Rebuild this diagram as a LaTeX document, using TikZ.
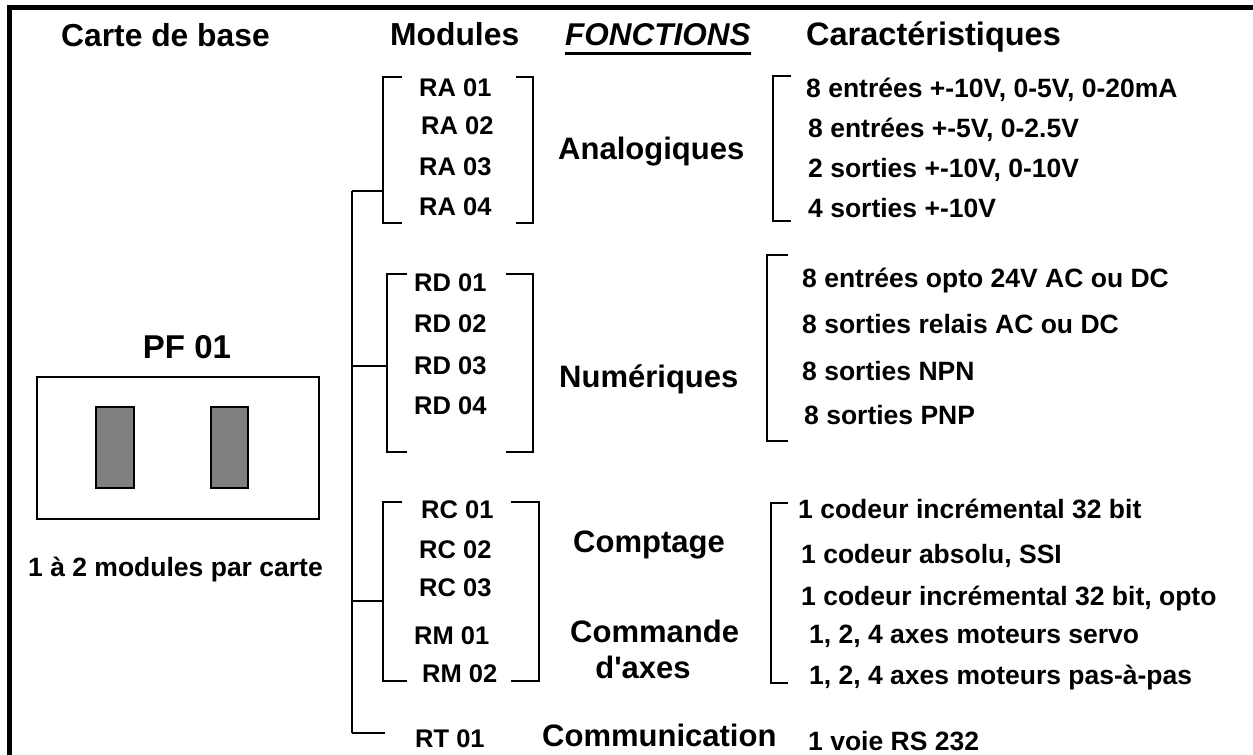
\documentclass[tikz,border=0pt]{standalone}
\usepackage{fontspec}
\setmainfont{Liberation Sans}[Ligatures=TeXOff]
\newcommand\fsz[1]{\fontsize{#1pt}{#1pt}\selectfont\bfseries}
\definecolor{slotgray}{HTML}{808080}
\begin{document}
\begin{tikzpicture}[x=1pt,y=-1pt,
  txt/.style={inner sep=0pt, anchor=base west},
  hdr/.style={txt, font=\fsz{31.8}},
  fun/.style={txt, font=\fsz{31}},
  modl/.style={txt, font=\fsz{25.5}},
  car/.style={txt, font=\fsz{26.5}},
  brk/.style={line width=2pt},
  conn/.style={line width=2pt},
  frame/.style={line width=5pt},
  slot/.style={draw, line width=2pt, fill=slotgray}]
\useasboundingbox (0,0) rectangle (1253,755);
% frame
\draw[frame] (1260,7.5) -- (9.5,7.5) -- (9.5,760);

% headers
\node[hdr] (h1) at (61,46) {Carte de base};
\node[hdr] (h2) at (390,45) {Modules};
\node[hdr, font=\fsz{31.5}\itshape] (h3) at (565,45) {FONCTIONS};
\draw[line width=2.5pt] ([yshift=-8.5pt]h3.base west) -- ([yshift=-8.5pt]h3.base east);
\node[hdr, font=\fsz{32.5}] (h4) at (806,45) {Caractéristiques};

% base board
\node[txt, anchor=base, font=\fsz{33}] (pf) at (187,358) {PF 01};
\node[draw, line width=2.5pt, minimum width=282pt, minimum height=142pt, inner sep=0pt] (board) at (178,448) {};
\node[slot, minimum width=38pt, minimum height=81pt, inner sep=0pt] (s1) at (115,447.5) {};
\node[slot, minimum width=37pt, minimum height=81pt, inner sep=0pt] (s2) at (229.5,447.5) {};
\node[car] (nb) at (28,576) {1 à 2 modules par carte};

% trunk coordinates
\coordinate (tA) at (352,191);
\coordinate (tD) at (352,366);
\coordinate (tC) at (352,601);
\coordinate (tT) at (352,733);
\coordinate (gA) at (383,191);
\coordinate (gD) at (387,366);
\coordinate (gC) at (383,601);
\coordinate (gT) at (385,733);
\draw[conn] (tA) -- (tT);
\draw[conn] (tA) -- (gA);
\draw[conn] (tD) -- (gD);
\draw[conn] (tC) -- (gC);
\draw[conn] (tT) -- (gT);

% analog modules
\node[modl] (ra1) at (419,96) {RA 01};
\node[modl] (ra2) at (421,134) {RA 02};
\node[modl] (ra3) at (419,175) {RA 03};
\node[modl] (ra4) at (419,215) {RA 04};
\draw[brk] (402,77) -- (383,77) -- (383,223) -- (402,223);
\draw[brk] (516,77) -- (533,77) -- (533,223) -- (516,223);
\node[fun] (fa) at (558,159) {Analogiques};
\draw[brk] (791,76) -- (773,76) -- (773,221) -- (791,221);
\node[car] (ca1) at (806,97) {8 entrées +-10V, 0-5V, 0-20mA};
\node[car] (ca2) at (808,137) {8 entrées +-5V, 0-2.5V};
\node[car] (ca3) at (808,177) {2 sorties +-10V, 0-10V};
\node[car] (ca4) at (808,217) {4 sorties +-10V};

% numeric modules
\node[modl] (rd1) at (414,291) {RD 01};
\node[modl] (rd2) at (414,332) {RD 02};
\node[modl] (rd3) at (414,374) {RD 03};
\node[modl] (rd4) at (414,414) {RD 04};
\draw[brk] (407,274) -- (387,274) -- (387,452) -- (407,452);
\draw[brk] (506,274) -- (533,274) -- (533,452) -- (506,452);
\node[fun] (fn) at (559,387) {Numériques};
\draw[brk] (788,255) -- (767,255) -- (767,441) -- (788,441);
\node[car] (cn1) at (802,287) {8 entrées opto 24V AC ou DC};
\node[car] (cn2) at (802,333) {8 sorties relais AC ou DC};
\node[car] (cn3) at (802,380) {8 sorties NPN};
\node[car] (cn4) at (804,424) {8 sorties PNP};

% counting / motion modules
\node[modl] (rc1) at (421,518) {RC 01};
\node[modl] (rc2) at (419,558) {RC 02};
\node[modl] (rc3) at (419,596) {RC 03};
\node[modl] (rm1) at (414,644) {RM 01};
\node[modl] (rm2) at (422,682) {RM 02};
\draw[brk] (402,502) -- (383,502) -- (383,681) -- (407,681);
\draw[brk] (511,502) -- (539,502) -- (539,681) -- (511,681);
\node[fun] (fc) at (573,552) {Comptage};
\node[fun] (fm1) at (570,642) {Commande};
\node[fun, anchor=base] (fm2) at (643,678) {d'axes};
\draw[brk] (788,503) -- (771,503) -- (771,683) -- (788,683);
\node[car] (cc1) at (798,518) {1 codeur incrémental 32 bit};
\node[car] (cc2) at (801,563) {1 codeur absolu, SSI};
\node[car] (cc3) at (801,605) {1 codeur incrémental 32 bit, opto};
\node[car] (cc4) at (809,643) {1, 2, 4 axes moteurs servo};
\node[car] (cc5) at (809,684) {1, 2, 4 axes moteurs pas-à-pas};

% communication
\node[modl] (rt1) at (415,747) {RT 01};
\node[fun] (fcom) at (542,746) {Communication};
\node[car] (ct1) at (808,750) {1 voie RS 232};
\end{tikzpicture}
\end{document}
